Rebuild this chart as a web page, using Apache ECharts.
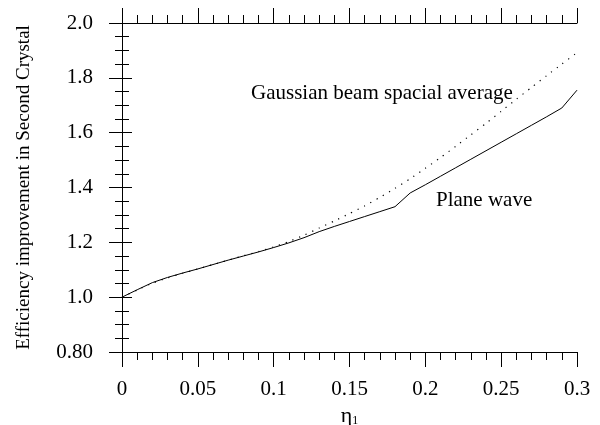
<!DOCTYPE html>
<html>
<head>
<meta charset="utf-8">
<script src="https://cdn.jsdelivr.net/npm/echarts@6/dist/echarts.min.js"></script>
<style>
html,body{margin:0;padding:0;background:#fff;}
#c{width:600px;height:425px;}
</style>
</head>
<body>
<div id="c"></div>
<script>
// Data
const etaValues = [0, 0.01, 0.02, 0.03, 0.04, 0.05, 0.06, 0.07, 0.08, 0.09, 0.10,
  0.11, 0.12, 0.13, 0.14, 0.15, 0.16, 0.17, 0.18, 0.19, 0.20,
  0.21, 0.22, 0.23, 0.24, 0.25, 0.26, 0.27, 0.28, 0.29, 0.30];
const planeWave = [1.000, 1.027, 1.053, 1.072, 1.088, 1.103, 1.119, 1.135, 1.150, 1.165, 1.181,
  1.198, 1.217, 1.239, 1.258, 1.276, 1.294, 1.312, 1.330, 1.380, 1.410,
  1.441, 1.472, 1.503, 1.534, 1.565, 1.596, 1.627, 1.658, 1.690, 1.755];
const gaussianAvg = [1.000, 1.026, 1.051, 1.070, 1.087, 1.103, 1.119, 1.135, 1.151, 1.166, 1.183,
  1.203, 1.226, 1.252, 1.278, 1.305, 1.333, 1.364, 1.397, 1.432, 1.470,
  1.509, 1.550, 1.592, 1.634, 1.678, 1.722, 1.765, 1.808, 1.850, 1.892];
const xTickLabels = {"0": "0", "0.05": "0.05", "0.1": "0.1", "0.15": "0.15", "0.2": "0.2", "0.25": "0.25", "0.3": "0.3"};
const yTickLabels = {"0.8": "0.80", "1": "1.0", "1.2": "1.2", "1.4": "1.4", "1.6": "1.6", "1.8": "1.8", "2": "2.0"};
const yTitle = "Efficiency improvement in Second Crystal";
const labelGaussian = "Gaussian beam spacial average";
const labelPlane = "Plane wave";

const FONT = "Liberation Serif";
const chart = echarts.init(document.getElementById('c'), null, {renderer: 'canvas'});
const pair = (xs, ys) => xs.map((x, i) => [x, ys[i]]);
const axisLine = {show: true, lineStyle: {color: '#000', width: 1}};
const fmtKey = v => String(Math.round(v * 1000) / 1000);

chart.setOption({
  animation: false,
  backgroundColor: '#fff',
  grid: {left: 122, right: 23, top: 23, bottom: 73, containLabel: false, outerBoundsMode: 'none'},
  xAxis: [{
    type: 'value', min: 0, max: 0.3, interval: 0.05, position: 'bottom',
    axisLine: axisLine,
    axisTick: {show: true, length: 15, lineStyle: {color: '#000'}},
    minorTick: {show: true, splitNumber: 5, length: 8, lineStyle: {color: '#000'}},
    splitLine: {show: false},
    axisLabel: {margin: 27, fontFamily: FONT, fontSize: 21, color: '#000',
      formatter: v => xTickLabels[fmtKey(v)] || ''},
    name: '{a|η}{b|1}', nameLocation: 'middle', nameGap: 37,
    nameTextStyle: {rich: {a: {fontFamily: FONT, fontSize: 22, color: '#000'},
      b: {fontFamily: FONT, fontSize: 12, color: '#000', verticalAlign: 'bottom', padding: [10, 0, 0, 0]}}}
  }, {
    type: 'value', min: 0, max: 0.3, interval: 0.05, position: 'top',
    axisLine: axisLine,
    axisTick: {show: true, length: 15, lineStyle: {color: '#000'}},
    minorTick: {show: true, splitNumber: 5, length: 8, lineStyle: {color: '#000'}},
    splitLine: {show: false}, axisLabel: {show: false}
  }],
  yAxis: [{
    type: 'value', min: 0.8, max: 2.0, interval: 0.2, position: 'left',
    axisLine: axisLine,
    axisTick: {show: true, length: 13, lineStyle: {color: '#000'}},
    minorTick: {show: true, splitNumber: 4, length: 7, lineStyle: {color: '#000'}},
    splitLine: {show: false},
    axisLabel: {margin: 29, fontFamily: FONT, fontSize: 21, color: '#000',
      formatter: v => yTickLabels[fmtKey(v)] || ''},
    name: yTitle, nameLocation: 'middle', nameGap: 88,
    nameTextStyle: {fontFamily: FONT, fontSize: 19, color: '#000'}
  }, {
    type: 'value', min: 0.8, max: 2.0, interval: 0.2, position: 'right',
    axisLine: axisLine,
    axisTick: {show: true, length: 10, lineStyle: {color: '#000'}},
    minorTick: {show: true, splitNumber: 4, length: 7, lineStyle: {color: '#000'}},
    splitLine: {show: false}, axisLabel: {show: false}
  }],
  series: [{
    name: labelPlane, type: 'line', xAxisIndex: 0, yAxisIndex: 0,
    data: pair(etaValues, planeWave), showSymbol: false, symbol: 'none',
    lineStyle: {color: '#000', width: 1}
  }, {
    name: labelGaussian, type: 'line', xAxisIndex: 0, yAxisIndex: 0,
    data: pair(etaValues, gaussianAvg), showSymbol: false, symbol: 'none', smooth: 0.2,
    lineStyle: {color: '#000', width: 1.2, type: [1.2, 6]}
  }],
  graphic: [{
    type: 'text', left: 251, top: 83,
    style: {text: labelGaussian, fontFamily: FONT, fontSize: 21, fill: '#000'}
  }, {
    type: 'text', left: 436, top: 190,
    style: {text: labelPlane, fontFamily: FONT, fontSize: 21, fill: '#000'}
  }]
});
</script>
</body>
</html>
